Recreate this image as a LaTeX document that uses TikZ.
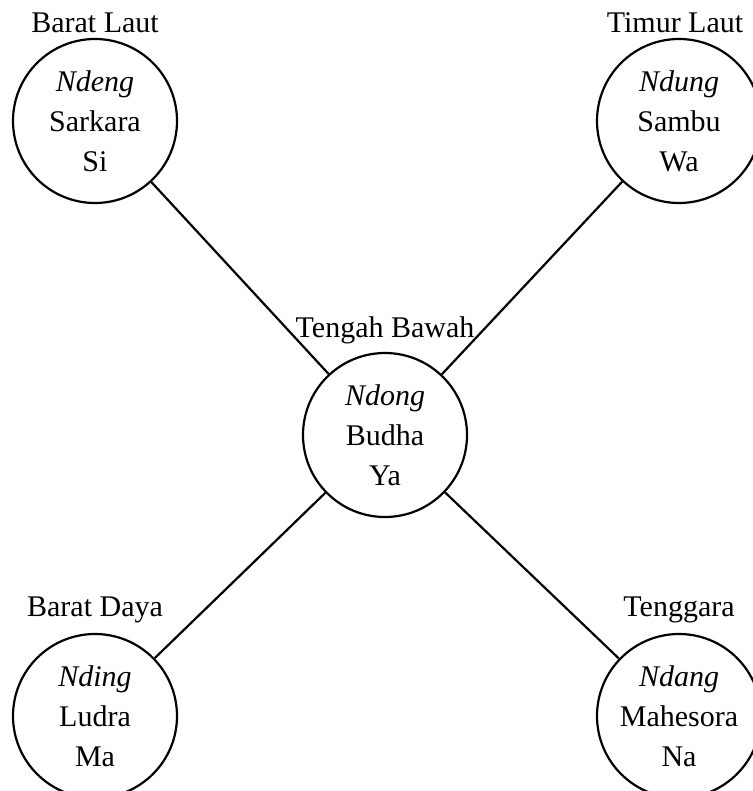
\documentclass[tikz,border=0pt]{standalone}
\usepackage{fontspec}
\setmainfont{Liberation Serif}
\usetikzlibrary{positioning}

\begin{document}
\begin{tikzpicture}[x=0.5pt,y=-0.5pt,
	arah/.style={circle, draw, line width=1.1pt, minimum size=82pt, inner sep=0pt, align=center, font=\fontsize{15}{20}\selectfont},
	mata/.style={font=\fontsize{15}{18}\selectfont, inner sep=0pt}]
	\useasboundingbox (0,0) rectangle (752,791);

	\node[arah] (c) at (385,435) {\textit{Ndong}\\Budha\\Ya};
	\node[arah] (bl) at (95,121) {\textit{Ndeng}\\Sarkara\\Si};
	\node[arah] (tl) at (679,121) {\textit{Ndung}\\Sambu\\Wa};
	\node[arah] (bd) at (95,716) {\textit{Nding}\\Ludra\\Ma};
	\node[arah] (tg) at (679,716) {\textit{Ndang}\\Mahesora\\Na};

	\node[mata, above=4pt of c] {Tengah Bawah};
	\node[mata, above=2.5pt of bl] {Barat Laut};
	\node[mata, above=2.5pt of tl, xshift=-2pt] {Timur Laut};
	\node[mata, above=5pt of bd] {Barat Daya};
	\node[mata, above=5pt of tg] {Tenggara};

	\draw[line width=1.1pt] (c) -- (bl);
	\draw[line width=1.1pt] (c) -- (tl);
	\draw[line width=1.1pt] (c) -- (bd);
	\draw[line width=1.1pt] (c) -- (tg);
\end{tikzpicture}
\end{document}
